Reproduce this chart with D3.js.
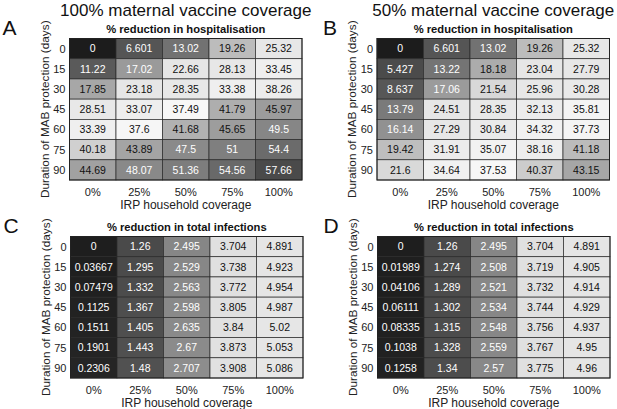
<html>
<head>
  <meta charset="utf-8">
  <title>Maternal vaccine heatmaps</title>
  <script src="https://cdn.jsdelivr.net/npm/d3@7"></script>
  <style>
    body { margin: 0; background: #fff; }
    text { font-family: Helvetica, "Liberation Sans", Arial, sans-serif; }
  </style>
</head>
<body>
  <script>
    // rows = duration of MAB protection, columns = IRP household coverage
    const mabDays = ["0", "15", "30", "45", "60", "75", "90"]
    const irpCoverage = ["0%", "25%", "50%", "75%", "100%"]

    const hospFull = [
      [0, 6.601, 13.02, 19.26, 25.32],
      [11.22, 17.02, 22.66, 28.13, 33.45],
      [17.85, 23.18, 28.35, 33.38, 38.26],
      [28.51, 33.07, 37.49, 41.79, 45.97],
      [33.39, 37.6, 41.68, 45.65, 49.5],
      [40.18, 43.89, 47.5, 51, 54.4],
      [44.69, 48.07, 51.36, 54.56, 57.66]
    ]
    const hospHalf = [
      [0, 6.601, 13.02, 19.26, 25.32],
      [5.427, 13.22, 18.18, 23.04, 27.79],
      [8.637, 17.06, 21.54, 25.96, 30.28],
      [13.79, 24.51, 28.35, 32.13, 35.81],
      [16.14, 27.29, 30.84, 34.32, 37.73],
      [19.42, 31.91, 35.07, 38.16, 41.18],
      [21.6, 34.64, 37.53, 40.37, 43.15]
    ]
    const infFull = [
      [0, 1.26, 2.495, 3.704, 4.891],
      [0.03667, 1.295, 2.529, 3.738, 4.923],
      [0.07479, 1.332, 2.563, 3.772, 4.954],
      [0.1125, 1.367, 2.598, 3.805, 4.987],
      [0.1511, 1.405, 2.635, 3.84, 5.02],
      [0.1901, 1.443, 2.67, 3.873, 5.053],
      [0.2306, 1.48, 2.707, 3.908, 5.086]
    ]
    const infHalf = [
      [0, 1.26, 2.495, 3.704, 4.891],
      [0.01989, 1.274, 2.508, 3.719, 4.905],
      [0.04106, 1.289, 2.521, 3.732, 4.914],
      [0.06111, 1.302, 2.534, 3.744, 4.929],
      [0.08335, 1.315, 2.548, 3.756, 4.937],
      [0.1038, 1.328, 2.559, 3.767, 4.95],
      [0.1258, 1.34, 2.57, 3.775, 4.96]
    ]

    const columnTitles = ["100% maternal vaccine coverage", "50% maternal vaccine coverage"]

    var width = 617,
        height = 409;

    var svg = d3.select('body')
      .append('svg')
      .attr('width', width)
      .attr('height', height);

    // grey colormaps (dark -> light -> dark)
    let hospColor = d3.scaleLinear()
      .domain([0, 6.6, 11.2, 13, 17, 19.3, 22.7, 30, 37.5, 40.2, 42, 44.5, 46, 47.5, 50, 54.5, 57.7])
      .range(['#1c1c1c', '#555', '#5a5a5a', '#727272', '#9a9a9a', '#bdbdbd', '#e6e6e6', '#e8e8e8',
              '#f7f7f7', '#d0d0d0', '#aaa', '#a2a2a2', '#9c9c9c', '#8a8a8a', '#858585', '#6a6a6a', '#4a4a4a'])
      .clamp(true);

    let infColor = d3.scaleLinear()
      .domain([0, 0.25, 1.26, 1.5, 2.5, 2.7, 3.7, 5.1])
      .range(['#1e1e1e', '#262626', '#4a4a4a', '#525252', '#868686', '#8c8c8c', '#e0e0e0', '#e6e6e6'])
      .clamp(true);

    let panels = [
      {letter: 'A', sub: '% reduction in hospitalisation', data: hospFull, color: hospColor, x: 69.5, y: 38.5},
      {letter: 'B', sub: '% reduction in hospitalisation', data: hospHalf, color: hospColor, x: 377, y: 38.5},
      {letter: 'C', sub: '% reduction in total infections', data: infFull, color: infColor, x: 70.5, y: 236.5},
      {letter: 'D', sub: '% reduction in total infections', data: infHalf, color: infColor, x: 377.5, y: 236.5}
    ];

    let gridW = 232.5, gridH = 141.5;

    // column titles
    svg.selectAll('.coltitle')
      .data(columnTitles)
      .enter()
      .append('text')
      .attr('x', (d, i) => panels[i].x + gridW / 2)
      .attr('y', 16)
      .attr('text-anchor', 'middle')
      .attr('font-size', '17px')
      .attr('fill', '#111')
      .text(d => d);

    panels.forEach(function(p) {
      let g = svg.append('g').attr('transform', 'translate(' + p.x + ',' + p.y + ')');

      let x = d3.scaleBand().domain(irpCoverage).range([0, gridW]);
      let y = d3.scaleBand().domain(mabDays).range([0, gridH]);

      let cells = [];
      p.data.forEach(function(row, r) {
        row.forEach(function(v, c) {
          cells.push({row: mabDays[r], col: irpCoverage[c], value: v});
        });
      });

      g.selectAll('rect')
        .data(cells)
        .enter()
        .append('rect')
        .attr('x', d => x(d.col))
        .attr('y', d => y(d.row))
        .attr('width', x.bandwidth())
        .attr('height', y.bandwidth())
        .attr('fill', d => p.color(d.value))
        .attr('stroke', '#2a2a2a')
        .attr('stroke-width', 0.7);

      g.selectAll('.val')
        .data(cells)
        .enter()
        .append('text')
        .attr('class', 'val')
        .attr('x', d => x(d.col) + x.bandwidth() / 2)
        .attr('y', d => y(d.row) + y.bandwidth() / 2 + 3.8)
        .attr('text-anchor', 'middle')
        .attr('font-size', '10.5px')
        .attr('fill', function(d) {
          let l = d3.hsl(p.color(d.value)).l;
          return l < 0.61 ? '#fff' : '#111';
        })
        .text(d => d.value);

      g.append('rect')
        .attr('width', gridW)
        .attr('height', gridH)
        .attr('fill', 'none')
        .attr('stroke', '#222')
        .attr('stroke-width', 1);

      // y tick labels
      g.selectAll('.ytick')
        .data(mabDays)
        .enter()
        .append('text')
        .attr('x', -4)
        .attr('y', d => y(d) + y.bandwidth() / 2 + 4)
        .attr('text-anchor', 'end')
        .attr('font-size', '11px')
        .attr('fill', '#222')
        .text(d => d);

      // x tick labels
      g.selectAll('.xtick')
        .data(irpCoverage)
        .enter()
        .append('text')
        .attr('x', d => x(d) + x.bandwidth() / 2)
        .attr('y', gridH + 16)
        .attr('text-anchor', 'middle')
        .attr('font-size', '11px')
        .attr('fill', '#222')
        .text(d => d);

      g.append('text')
        .attr('x', gridW / 2)
        .attr('y', gridH + 28.5)
        .attr('text-anchor', 'middle')
        .attr('font-size', '12px')
        .attr('fill', '#222')
        .text('IRP household coverage');

      g.append('text')
        .attr('transform', 'translate(-21,' + gridH / 2 + ') rotate(-90)')
        .attr('text-anchor', 'middle')
        .attr('font-size', '11.8px')
        .attr('fill', '#222')
        .text('Duration of MAB protection (days)');

      g.append('text')
        .attr('x', gridW / 2)
        .attr('y', -6)
        .attr('text-anchor', 'middle')
        .attr('font-size', '11.2px')
        .attr('font-weight', 'bold')
        .attr('fill', '#111')
        .text(p.sub);

      g.append('text')
        .attr('x', p.letter == 'A' || p.letter == 'C' ? -67 : -54)
        .attr('y', -3.5)
        .attr('font-size', '21px')
        .attr('fill', '#111')
        .text(p.letter);
    });
  </script>
</body>
</html>
